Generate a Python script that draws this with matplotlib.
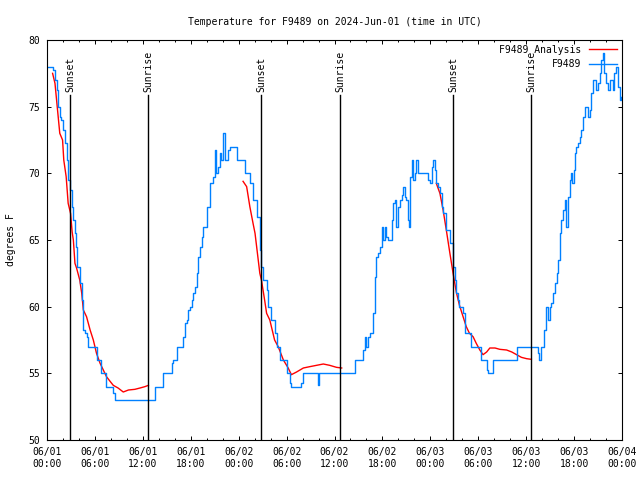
"""Temperatura observada x análise para a estação F9489."""

import matplotlib
matplotlib.use("Agg")
import matplotlib.pyplot as plt
import matplotlib.dates as mdates
import pandas as pd

INICIO = pd.Timestamp("2024-06-01 00:00")
FIM = pd.Timestamp("2024-06-04 00:00")

# Observações (horas desde 06/01 00:00 UTC, °F)
obs_horas = [
    0.0, 0.6, 0.7, 1.0, 1.2, 1.4, 1.6, 1.8, 2.0, 2.25, 2.45, 2.65, 2.9, 3.1,
    3.3, 3.5, 3.6, 3.7, 4.1, 4.35, 4.45, 4.55, 4.75, 4.95, 5.15, 6.0, 6.2,
    6.65, 6.7, 7.25, 7.45, 8.1, 8.3, 8.5, 13.3, 13.5, 14.15, 14.55, 15.4,
    15.6, 15.8, 16.25, 16.85, 17.05, 17.25, 17.5, 17.7, 17.9, 18.1, 18.3,
    18.5, 18.75, 18.95, 19.15, 19.35, 19.55, 20.0, 20.4, 20.8, 21.0, 21.2,
    21.45, 21.65, 21.85, 22.05, 22.3, 22.7, 22.9, 23.55, 23.75, 24.55, 24.8,
    25.4, 25.8, 26.25, 26.65, 26.85, 27.05, 27.5, 27.7, 28.1, 28.5, 28.75,
    29.15, 29.8, 30.0, 30.4, 30.6, 31.65, 31.85, 32.1, 33.75, 33.9, 34.05,
    38.35, 38.55, 39.4, 39.6, 39.8, 40.0, 40.2, 40.4, 40.65, 40.85, 41.05,
    41.25, 41.45, 41.7, 41.9, 42.1, 42.3, 42.5, 42.7, 42.95, 43.15, 43.35,
    43.55, 43.75, 43.95, 44.2, 44.4, 44.6, 44.8, 45.0, 45.2, 45.35, 45.5,
    45.65, 45.85, 46.05, 46.25, 46.45, 47.5, 47.7, 47.95, 48.15, 48.35,
    48.55, 48.75, 48.95, 49.2, 49.4, 49.6, 50.0, 50.45, 50.85, 51.05, 51.25,
    51.45, 51.65, 52.1, 52.3, 52.9, 53.15, 54.2, 54.4, 54.8, 55.05, 55.25,
    55.65, 55.8, 58.6, 58.8, 61.3, 61.5, 61.6, 61.8, 61.9, 62.25, 62.45,
    62.75, 62.95, 63.15, 63.35, 63.6, 63.8, 64.0, 64.2, 64.4, 64.6, 64.85,
    65.05, 65.25, 65.45, 65.65, 65.8, 65.95, 66.1, 66.3, 66.5, 66.7, 66.9,
    67.1, 67.35, 67.55, 67.75, 67.95, 68.15, 68.35, 68.55, 68.75, 68.95,
    69.2, 69.4, 69.6, 69.8, 70.0, 70.25, 70.45, 70.65, 70.85, 71.05, 71.25,
    71.45, 71.7, 71.85,
]
obs_temp = [
    78, 78, 77.75, 77, 76.25, 75, 74.25, 74, 73.25, 72.25, 71, 69.5, 68.75,
    67.5, 66.5, 65.5, 64.5, 63, 61.75, 60.5, 59.5, 58.25, 58, 57.75, 57, 57,
    56, 56, 55, 55, 54, 54, 53.5, 53, 53, 54, 54, 55, 55, 55.75, 56, 57, 57,
    57.75, 58.75, 59, 59.75, 60, 60.5, 61, 61.5, 62.5, 63.75, 64.5, 65.25,
    66, 67.5, 69.25, 69.75, 71.75, 70, 70.5, 71.5, 71, 73, 71, 71.75, 72, 72,
    71, 71, 70, 69.25, 68, 66.75, 64.25, 63, 62, 61.25, 60, 59, 58, 57, 56,
    56, 55, 54.25, 54, 54, 54.25, 55, 55, 54.1, 55, 55, 56, 56, 56.75, 57.75,
    57, 57.75, 58, 58, 59.5, 62.25, 63.75, 64, 64.5, 66, 65, 66, 65.25, 65,
    65, 66.5, 67.75, 68, 66, 67.5, 68, 68.4, 69, 68.25, 68, 66.5, 66, 69.75,
    71, 69.5, 70, 71, 70, 70, 69.5, 69.25, 70.5, 71, 70.25, 69.25, 69, 68.5,
    67.5, 67, 65.75, 64.75, 63, 62, 61, 60.5, 60, 59.5, 58, 58, 57, 57, 56,
    56, 55.25, 55, 55, 56, 56, 57, 57, 56.5, 56, 56.5, 57, 58.25, 60, 59, 60,
    60.25, 61, 61.75, 62.5, 63.5, 65.5, 66.5, 67.25, 68, 66, 68.25, 69.5,
    70, 69.25, 70.25, 71.5, 72, 72.25, 72.75, 73.25, 74.25, 75, 75, 74.25,
    74.75, 76, 77, 77, 76.25, 76.75, 77.5, 78.5, 79, 77.5, 76.75, 76.25, 77,
    77, 76.25, 77.5, 78, 76.5, 75.5, 75.75,
]

# Análise: três trechos de ~12 h (após cada pôr do sol)
analise_horas_1 = [
    0.7, 1.0, 1.2, 1.4, 1.6, 1.95, 2.1, 2.4, 2.65, 2.95, 3.15, 3.3, 3.5, 3.7,
    4.1, 4.35, 4.55, 4.95, 5.4, 5.8, 6.2, 6.65, 7.05, 7.45, 7.9, 8.3, 8.9,
    9.55, 10.2, 11.0, 11.65, 12.25, 12.7,
]
analise_temp_1 = [
    77.5, 76.75, 75.5, 74.25, 73, 72.5, 71, 69.75, 67.75, 67, 65.6, 65,
    63.25, 62.9, 62, 61, 59.75, 59.25, 58.25, 57.5, 56.5, 55.75, 55.25,
    54.75, 54.4, 54.1, 53.9, 53.6, 53.75, 53.8, 53.9, 54, 54.1,
]
analise_horas_2 = [
    24.55, 25.0, 25.4, 25.8, 26.05, 26.25, 26.45, 26.65, 26.85, 27.05, 27.25,
    27.5, 27.7, 27.9, 28.3, 28.5, 28.95, 29.6, 30.2, 30.6, 31.25, 32.1,
    32.9, 33.75, 34.6, 35.4, 36.25, 36.9,
]
analise_temp_2 = [
    69.4, 69, 67.5, 66.25, 65.5, 64.5, 63.5, 62.5, 62, 61.25, 60.5, 59.5,
    59.25, 59, 58, 57.5, 57, 56, 55.4, 54.9, 55.1, 55.4, 55.5, 55.6, 55.7,
    55.6, 55.45, 55.4,
]
analise_horas_3 = [
    48.75, 49.2, 49.6, 50.0, 50.45, 50.85, 51.25, 51.65, 52.1, 52.5, 52.9,
    53.35, 53.75, 54.2, 54.6, 55.05, 55.45, 56.1, 56.7, 57.55, 58.2, 58.8,
    59.4, 60.05, 60.65,
]
analise_temp_3 = [
    69.25, 68.5, 67.25, 65.75, 64, 62.5, 61.1, 60.1, 59.25, 58.5, 58, 57.75,
    57.25, 56.75, 56.4, 56.6, 56.9, 56.9, 56.8, 56.75, 56.6, 56.4, 56.2,
    56.1, 56.05,
]

# Eventos solares (UTC)
eventos = [
    ("2024-06-01 02:53", "Sunset"),
    ("2024-06-01 12:39", "Sunrise"),
    ("2024-06-02 02:48", "Sunset"),
    ("2024-06-02 12:41", "Sunrise"),
    ("2024-06-03 02:50", "Sunset"),
    ("2024-06-03 12:36", "Sunrise"),
]

FONTE = "DejaVu Sans Mono"
TAM = 7
plt.rcParams["font.family"] = FONTE
plt.rcParams["font.size"] = TAM


def _tempo(horas):
    return INICIO + pd.to_timedelta(horas, unit="h")


fig = plt.figure(figsize=(6.4, 4.8), dpi=100)
ax = fig.add_axes([47 / 640, 40 / 480, 575 / 640, 400 / 480])

ax.plot([], [], color="#ff0000", lw=1.0, label="F9489 Analysis")
for horas, temp in [
    (analise_horas_1, analise_temp_1),
    (analise_horas_2, analise_temp_2),
    (analise_horas_3, analise_temp_3),
]:
    ax.plot(_tempo(horas), temp, color="#ff0000", lw=1.0)

ax.plot(_tempo(obs_horas), obs_temp, color="#0080ff", lw=1.0,
        drawstyle="steps-post", label="F9489")

for quando, nome in eventos:
    t = pd.Timestamp(quando)
    ax.axvline(t, ymin=0, ymax=0.8625, color="black", lw=1.0)
    ax.text(t, 0.87, nome, transform=ax.get_xaxis_transform(),
            rotation=90, ha="center", va="bottom", fontsize=TAM)

ax.set_xlim(INICIO, FIM)
ax.set_ylim(50, 80)
ax.set_yticks(range(50, 81, 5))
ax.xaxis.set_major_locator(mdates.HourLocator(byhour=[0, 6, 12, 18]))
ax.xaxis.set_minor_locator(mdates.HourLocator(byhour=range(0, 24, 2)))
ax.xaxis.set_major_formatter(mdates.DateFormatter("%m/%d\n%H:%M"))

ax.tick_params(which="both", direction="in", top=True, right=True,
               width=0.7, labelsize=TAM)
ax.tick_params(which="major", length=3, pad=5)
ax.tick_params(which="minor", length=1.5)
for spine in ax.spines.values():
    spine.set_linewidth(0.8)

ax.set_ylabel("degrees F", fontsize=TAM, labelpad=9)
ax.set_title("Temperature for F9489 on 2024-Jun-01 (time in UTC)",
             fontsize=TAM, pad=11)

ax.legend(loc="upper right", frameon=False, markerfirst=False,
          fontsize=TAM, handlelength=2.9, handletextpad=0.8,
          labelspacing=0.45, borderaxespad=0.3, borderpad=0.2)

fig.savefig("out.png", dpi=100)
